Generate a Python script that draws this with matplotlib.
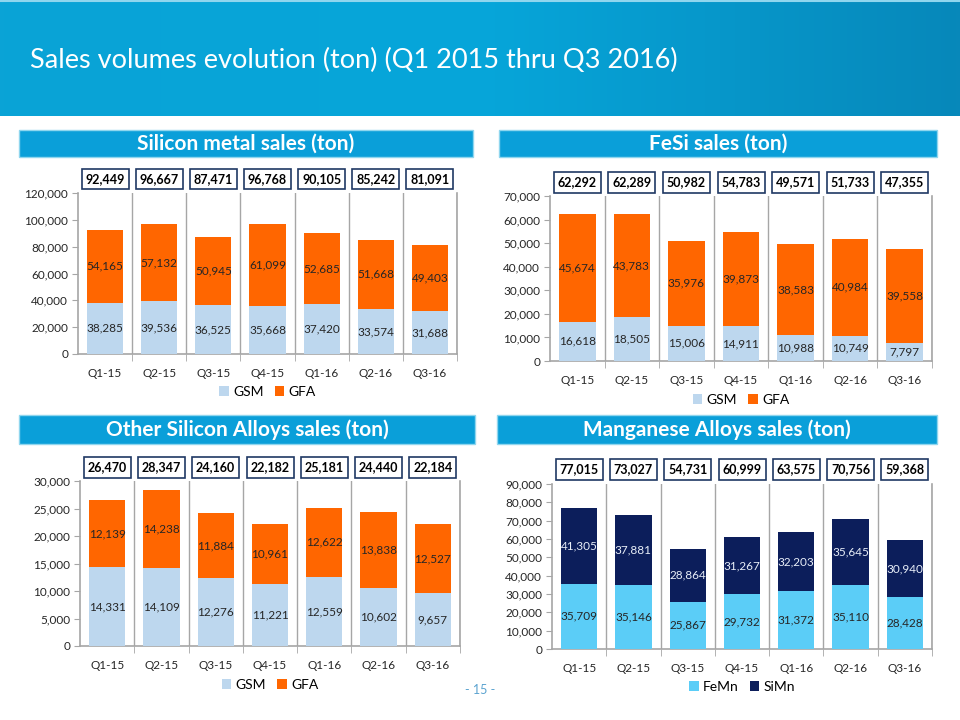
import matplotlib.pyplot as plt
import numpy as np
from matplotlib.patches import Rectangle, Patch
from matplotlib.colors import LinearSegmentedColormap

plt.rcParams['font.family'] = ['Lato', 'DejaVu Sans']

quarters = ['Q1-15', 'Q2-15', 'Q3-15', 'Q4-15', 'Q1-16', 'Q2-16', 'Q3-16']

si_gsm = [38285, 39536, 36525, 35668, 37420, 33574, 31688]
si_gfa = [54165, 57132, 50945, 61099, 52685, 51668, 49403]
si_tot = [92449, 96667, 87471, 96768, 90105, 85242, 81091]

fesi_gsm = [16618, 18505, 15006, 14911, 10988, 10749, 7797]
fesi_gfa = [45674, 43783, 35976, 39873, 38583, 40984, 39558]
fesi_tot = [62292, 62289, 50982, 54783, 49571, 51733, 47355]

osa_gsm = [14331, 14109, 12276, 11221, 12559, 10602, 9657]
osa_gfa = [12139, 14238, 11884, 10961, 12622, 13838, 12527]
osa_tot = [26470, 28347, 24160, 22182, 25181, 24440, 22184]

mn_femn = [35709, 35146, 25867, 29732, 31372, 35110, 28428]
mn_simn = [41305, 37881, 28864, 31267, 32203, 35645, 30940]
mn_tot = [77015, 73027, 54731, 60999, 63575, 70756, 59368]

W, H = 960, 720
fig = plt.figure(figsize=(9.6, 7.2), dpi=100)


def box(x0, y0, x1, y1):
    # pixel box (top-left origin) -> figure rect
    return [x0 / W, 1 - y1 / H, (x1 - x0) / W, (y1 - y0) / H]


# title banner with gradient
ban = fig.add_axes(box(0, 0, 960, 116))
grad = np.linspace(0, 1, 256).reshape(1, -1)
cm = LinearSegmentedColormap.from_list('b', ['#0aa3d6', '#06a6da', '#0788ba'])
ban.imshow(grad, aspect='auto', cmap=cm, extent=[0, 1, 0, 1])
ban.axhline(0.99, color='#8fd6ee', lw=1.5)
ban.set_axis_off()
fig.text(30 / W, 1 - 60 / H, 'Sales volumes evolution (ton) (Q1 2015 thru Q3 2016)',
         color='white', fontsize=19.5, va='center', ha='left')

col_gsm = '#bdd7ee'
col_gfa = '#ff6600'
col_femn = '#5bcdf7'
col_simn = '#0c1e5b'
grey = '#a6a6a6'


def panel(title, hdr, ax_px, box_px, legend_y, bottom_vals, top_vals, totals,
          ymax, ystep, colors, names, top_txt):
    hx0, hy0, hx1, hy1 = hdr
    fig.patches.append(Rectangle((hx0 / W, 1 - hy1 / H), (hx1 - hx0) / W, (hy1 - hy0) / H,
                                 transform=fig.transFigure, facecolor='#0a9fd9',
                                 edgecolor='#8fd6ee', lw=1))
    fig.text((hx0 + hx1) / 2 / W, 1 - (hy0 + hy1) / 2 / H, title, color='white',
             fontsize=15, fontweight='bold', ha='center', va='center')

    ax = fig.add_axes(box(*ax_px))
    x = np.arange(len(quarters))
    ax.bar(x, bottom_vals, width=0.67, color=colors[0], zorder=3)
    ax.bar(x, top_vals, width=0.67, bottom=bottom_vals, color=colors[1], zorder=3)
    for i in range(len(x)):
        ax.text(x[i], bottom_vals[i] / 2, f'{bottom_vals[i]:,}', ha='center', va='center',
                fontsize=8.5, color='#262626', zorder=4)
        ax.text(x[i], bottom_vals[i] + top_vals[i] / 2, f'{top_vals[i]:,}', ha='center',
                va='center', fontsize=8.5, color=top_txt, zorder=4)
    ax.set_xlim(-0.5, len(x) - 0.5)
    ax.set_ylim(0, ymax)
    yt = np.arange(0, ymax + 1, ystep)
    ax.set_yticks(yt)
    ax.set_yticklabels([f'{v:,}' for v in yt], fontsize=8.5, color='#262626')
    ax.set_xticks(x)
    ax.set_xticklabels(quarters, fontsize=8.5, color='#262626')
    ax.set_xticks(np.arange(0.5, len(x), 1), minor=True)
    ax.tick_params(axis='x', which='major', length=0, pad=10)
    ax.tick_params(axis='x', which='minor', length=5, color=grey, direction='out')
    ax.tick_params(axis='y', length=4, color=grey, direction='out', pad=3)
    ax.grid(axis='x', which='minor', color=grey, lw=1, zorder=1)
    ax.spines['top'].set_visible(False)
    for s in ['left', 'bottom', 'right']:
        ax.spines[s].set_color(grey)
        ax.spines[s].set_linewidth(1.2)

    # totals boxes
    bx_y0, bx_y1 = box_px
    x0, x1 = ax_px[0], ax_px[2]
    cw = (x1 - x0) / len(x)
    for i in range(len(x)):
        xc = x0 + cw * (i + 0.5)
        fig.patches.append(Rectangle(((xc - 23.5) / W, 1 - bx_y1 / H), 47 / W,
                                     (bx_y1 - bx_y0) / H, transform=fig.transFigure,
                                     facecolor='white', edgecolor='#1f3864', lw=1.2))
        fig.text(xc / W, 1 - (bx_y0 + bx_y1) / 2 / H, f'{totals[i]:,}', ha='center',
                 va='center', fontsize=9, fontweight='bold', color='black')

    # legend
    cx = (x0 + x1) / 2
    handles = [Patch(facecolor=colors[0]), Patch(facecolor=colors[1])]
    fig.legend(handles, names, loc='center', bbox_to_anchor=(cx / W, 1 - legend_y / H),
               ncol=2, frameon=False, fontsize=10, handlelength=0.7, handleheight=0.7,
               handletextpad=0.3, columnspacing=0.8)
    return ax


panel('Silicon metal sales (ton)', (19, 130, 473, 157), (78, 193, 457, 354), (169, 189),
      392, si_gsm, si_gfa, si_tot, 120000, 20000, [col_gsm, col_gfa], ['GSM', 'GFA'],
      '#262626')
panel('FeSi sales (ton)', (499, 130, 937, 157), (550, 196, 932, 361), (172, 193),
      400, fesi_gsm, fesi_gfa, fesi_tot, 70000, 10000, [col_gsm, col_gfa], ['GSM', 'GFA'],
      '#262626')
panel('Other Silicon Alloys sales (ton)', (19, 415, 475, 444), (80, 481, 460, 646),
      (457, 478), 685, osa_gsm, osa_gfa, osa_tot, 30000, 5000, [col_gsm, col_gfa],
      ['GSM', 'GFA'], '#262626')
panel('Manganese Alloys sales (ton)', (497, 415, 937, 444), (552, 484, 932, 649),
      (459, 480), 687, mn_femn, mn_simn, mn_tot, 90000, 10000, [col_femn, col_simn],
      ['FeMn', 'SiMn'], '#e8eef8')

fig.text(480 / W, 1 - 690 / H, '- 15 -', ha='center', va='center', fontsize=9,
         color='#5ba3d0')

fig.savefig('out.png', dpi=100)
